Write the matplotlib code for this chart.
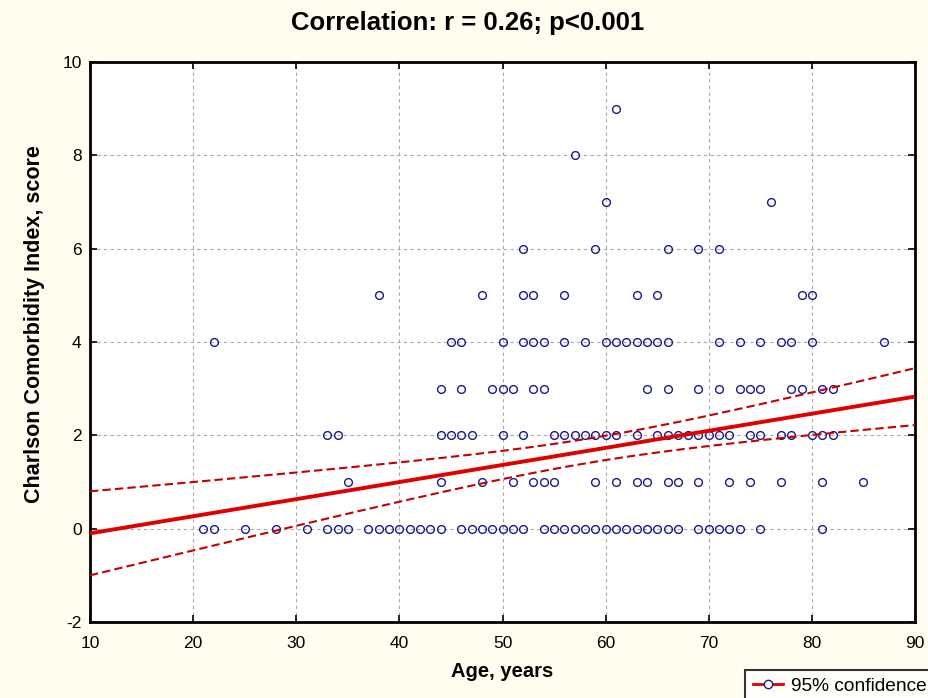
import numpy as np
import matplotlib
matplotlib.use("Agg")
import matplotlib.pyplot as plt
from matplotlib.lines import Line2D

plt.rcParams["axes.unicode_minus"] = False

# ages, grouped by Charlson score
ages_0 = [21, 22, 25, 28, 31, 33, 34, 35, 37, 38, 39, 40, 41, 42, 43, 44, 46, 47, 48, 49, 50,
          51, 52, 54, 55, 56, 57, 58, 59, 60, 61, 62, 63, 64, 65, 66, 67, 69, 70, 71, 72, 73, 75, 81]
ages_1 = [35, 44, 48, 51, 53, 54, 55, 59, 61, 63, 64, 66, 67, 69, 72, 74, 77, 81, 85]
ages_2 = [33, 34, 44, 45, 46, 47, 50, 52, 55, 56, 57, 58, 59, 60, 61, 63, 65, 66, 67, 68, 69,
          70, 71, 72, 74, 75, 77, 78, 80, 81, 82]
ages_3 = [44, 46, 49, 50, 51, 53, 54, 64, 66, 69, 71, 73, 74, 75, 78, 79, 81, 82]
ages_4 = [22, 45, 46, 50, 52, 53, 54, 56, 58, 60, 61, 62, 63, 64, 65, 66, 71, 73, 75, 77, 78, 80, 87]
ages_5 = [38, 48, 52, 53, 56, 63, 65, 79, 80]
ages_6 = [52, 59, 66, 69, 71]
ages_7 = [60, 76]
ages_8 = [57]
ages_9 = [61]

# regression line and 95% band
# (many points overlap in the original, so the fit can't be redone from visible dots)
fit_x = [10, 90]
fit_y = [-0.10, 2.83]
ci_center_age = 58.8   # where the band is narrowest
ci_min_halfwidth = 0.26
ci_halfwidth_at_10 = 0.90

groups = [ages_0, ages_1, ages_2, ages_3, ages_4, ages_5, ages_6, ages_7, ages_8, ages_9]
age = np.concatenate([np.array(g, dtype=float) for g in groups])
cci = np.concatenate([np.full(len(g), s, dtype=float) for s, g in enumerate(groups)])

slope = (fit_y[1] - fit_y[0]) / (fit_x[1] - fit_x[0])
xs = np.linspace(fit_x[0], fit_x[1], 200)
fit = fit_y[0] + slope * (xs - fit_x[0])
b2 = (ci_halfwidth_at_10 ** 2 - ci_min_halfwidth ** 2) / (10 - ci_center_age) ** 2
hw = np.sqrt(ci_min_halfwidth ** 2 + b2 * (xs - ci_center_age) ** 2)

bg = "#fffdf0"
fig = plt.figure(figsize=(9.29, 6.98), dpi=100, facecolor=bg)
ax = fig.add_axes([90 / 929, 1 - 622 / 698, 825 / 929, 560 / 698])
ax.set_facecolor("white")

fam = ["Liberation Sans Narrow", "DejaVu Sans Condensed", "Liberation Sans", "DejaVu Sans"]

ax.grid(True, color="#a8a8a8", linestyle=(0, (3, 3)), linewidth=0.8)
ax.set_axisbelow(True)

ax.plot(age, cci, linestyle="none", marker="o", markersize=5.6, markerfacecolor="none",
        markeredgecolor="#1a1a8c", markeredgewidth=1.0, zorder=3)
ax.plot(xs, fit, color="#e00000", linewidth=2.8, zorder=4)
ax.plot(xs, fit + hw, color="#c40000", linewidth=1.5, linestyle=(0, (4, 2)), zorder=4)
ax.plot(xs, fit - hw, color="#c40000", linewidth=1.5, linestyle=(0, (4, 2)), zorder=4)

ax.set_xlim(10, 90)
ax.set_ylim(-2, 10)
ax.set_xticks(range(10, 91, 10))
ax.set_yticks(range(-2, 11, 2))
ax.tick_params(direction="in", length=5, width=1.2, top=True, right=True, labelsize=12.5, pad=6)
ax.tick_params(axis="x", pad=10)
for lab in ax.get_xticklabels() + ax.get_yticklabels():
    lab.set_family(fam)
for sp in ax.spines.values():
    sp.set_linewidth(2)

fig.text(468 / 929, 1 - 23 / 698, "Correlation: r = 0.26; p<0.001", fontsize=18.5,
         fontweight="bold", family=fam, ha="center", va="center")
ax.set_xlabel("Age, years", fontsize=14.5, fontweight="bold", family=fam, labelpad=8)
ax.set_ylabel("Charlson Comorbidity Index, score", fontsize=15.5, fontweight="bold", family=fam)
ax.yaxis.set_label_coords(-0.055, 0.532)

handle = Line2D([], [], color="#e00000", linewidth=2, marker="o", markersize=6,
                markerfacecolor="white", markeredgecolor="#1a1a8c")
leg = fig.legend([handle], ["95% confidence"], loc="upper left",
                 bbox_to_anchor=(745 / 929, 1 - 670 / 698), frameon=True, fancybox=False,
                 prop={"family": fam, "size": 13.8}, handlelength=1.6, handletextpad=0.4,
                 borderpad=0.4, borderaxespad=0)
leg.get_frame().set_edgecolor("black")
leg.get_frame().set_linewidth(1.5)

fig.savefig("out.png", dpi=100, facecolor=bg)
